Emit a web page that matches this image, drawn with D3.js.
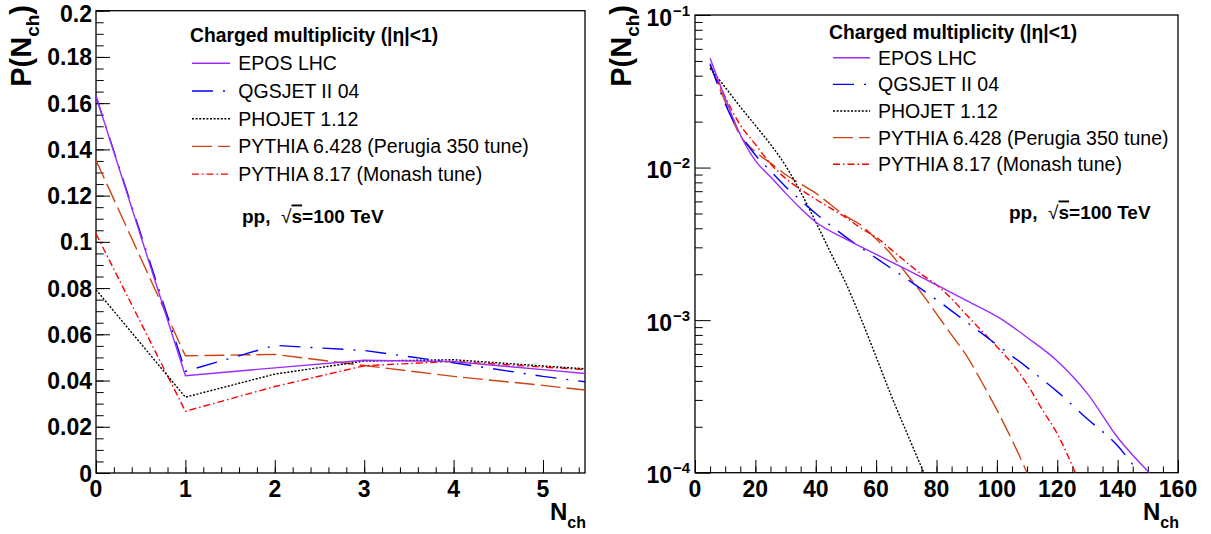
<!DOCTYPE html>
<html><head><meta charset="utf-8">
<script src="https://cdn.jsdelivr.net/npm/d3@7"></script>
<style>
body{margin:0;background:#fff}
svg text{font-family:"Liberation Sans",Arial,Helvetica,sans-serif;fill:#000}
</style>
</head><body>
<svg id="c" width="1211" height="534"></svg>
<script>
// ---------------- data ----------------
const seriesNames = ["EPOS LHC","QGSJET II 04","PHOJET 1.12","PYTHIA 6.428 (Perugia 350 tune)","PYTHIA 8.17 (Monash tune)"];
const legendTitle = "Charged multiplicity (|η|<1)";
// left panel (linear scale), N_ch = 0..6
const linNch = [0,1,2,3,4,5,6];
const linEPOS   = [0.163, 0.0421, 0.0455, 0.0488, 0.0482, 0.0447, 0.0412];
const linQGSJET = [0.163, 0.0440, 0.0552, 0.0530, 0.0477, 0.0418, 0.0369];
const linPHOJET = [0.0793,0.0328, 0.0428, 0.0484, 0.0490, 0.0463, 0.0437];
const linPY6    = [0.1353,0.0507, 0.0513, 0.0465, 0.0418, 0.0379, 0.0336];
const linPY8    = [0.1035,0.0267, 0.0374, 0.0464, 0.0483, 0.0458, 0.0436];
// right panel (log scale)
const logNchEPOS   = [5,10,15,20,25,30,35,40,50,60,70,80,90,102,110,120,130,140,150.5];
const logEPOS      = [0.052,0.0285,0.0164,0.0111,0.0087,0.0068,0.0054,0.0044,0.0034,0.0027,0.00215,0.0017,0.00134,0.0010,0.00077,0.00054,0.00033,0.00017,0.0001];
const logNchQGSJET = [5,10,15,20,25,30,35,40,50,60,70,80,90,100,110,120,130,140,147];
const logQGSJET    = [0.048,0.0262,0.0166,0.0121,0.0095,0.0075,0.0061,0.0050,0.0035,0.00255,0.00187,0.00136,0.00097,0.00069,0.00049,0.00034,0.000225,0.00015,0.0001];
const logNchPHOJET = [5,10,15,20,25,30,35,40,45,50,55,60,65,70,75.8];
const logPHOJET    = [0.0448,0.0336,0.0250,0.0189,0.0142,0.0103,0.0069,0.0044,0.00275,0.00174,0.00102,0.000575,0.00032,0.000186,0.0001];
const logNchPY6    = [5,10,15,20,25,30,35,40,45,50,55,60,65,70,75,80,85,90,95,100,105,110];
const logPY6       = [0.047,0.027,0.0162,0.0127,0.0107,0.0090,0.0078,0.0068,0.0057,0.0048,0.0042,0.0034,0.0027,0.00202,0.00151,0.00110,0.00080,0.000583,0.000393,0.000258,0.000164,0.0001];
const logNchPY8    = [5,10,15,20,25,30,35,40,45,50,55,60,65,70,75,80,85,90,95,100,105,110,115,120,126];
const logPY8       = [0.047,0.029,0.0190,0.0142,0.0106,0.0085,0.0072,0.0062,0.0054,0.0047,0.0040,0.0035,0.0029,0.0024,0.0020,0.0017,0.00138,0.00108,0.00085,0.00067,0.00052,0.00038,0.00026,0.00018,0.0001];
const linYTicks = [0,0.02,0.04,0.06,0.08,0.1,0.12,0.14,0.16,0.18,0.2];
const linYTickLabels = ["0","0.02","0.04","0.06","0.08","0.1","0.12","0.14","0.16","0.18","0.2"];
const linXTicks = [0,1,2,3,4,5];
const logXTicks = [0,20,40,60,80,100,120,140,160];
const logYDecades = [-1,-2,-3,-4];

// ---------------- styles ----------------
const colors = ["#9a2cff","#0000ff","#000000","#cc4411","#ff0000"];
const dashes = [null,"21,10,2,10","2,1.6","20,6","7,3,1.5,3"];

const svg = d3.select("#c");
const FONT_TICK = 23;

function frame(g, x0, x1, y0, y1){
  g.append("rect").attr("x",x0).attr("y",y1).attr("width",x1-x0).attr("height",y0-y1)
   .attr("fill","none").attr("stroke","#000").attr("stroke-width",1.3);
}
function legend(g, o){
  g.append("text").attr("x",o.tx).attr("y",o.ty).attr("font-size",19.3).attr("font-weight","bold").text(legendTitle);
  seriesNames.forEach((n,i)=>{
    const yc = o.r0 + i*o.dy;
    g.append("line").attr("x1",o.lx0).attr("x2",o.lx1).attr("y1",yc).attr("y2",yc)
     .attr("stroke",colors[i]).attr("stroke-width",1.4).attr("stroke-dasharray",dashes[i]);
    g.append("text").attr("x",o.ex).attr("y",yc+6.9).attr("font-size",19.5).text(n);
  });
  const t = g.append("text").attr("x",o.px).attr("y",o.py).attr("font-size",19).attr("font-weight","bold")
     .style("white-space","pre");
  t.append("tspan").text("pp,  ");
  t.append("tspan").attr("font-weight","normal").text("√");
  t.append("tspan").attr("text-decoration","overline").text("s");
  t.append("tspan").text("=100 TeV");
}
function xTitle(g, xr, yb){
  const t = g.append("text").attr("x",xr).attr("y",yb).attr("text-anchor","end").attr("font-size",24).attr("font-weight","bold");
  t.append("tspan").text("N");
  t.append("tspan").attr("font-size",16).attr("dy",8).text("ch");
}
function yTitle(g, xb, ytop){
  const t = g.append("text").attr("transform",`translate(${xb},${ytop}) rotate(-90)`).attr("text-anchor","end")
     .attr("font-size",29).attr("font-weight","bold");
  t.append("tspan").text("P(N");
  t.append("tspan").attr("font-size",19).attr("dy",8).text("ch");
  t.append("tspan").attr("dy",-8).text(")");
}

// ---------------- left panel ----------------
{
  const g = svg.append("g");
  const x = d3.scaleLinear().domain([0,5.47]).range([96,585]);
  const y = d3.scaleLinear().domain([0,0.2]).range([473,10.7]);
  g.append("clipPath").attr("id","clipL").append("rect").attr("x",96).attr("y",10.7).attr("width",489).attr("height",462.3);
  const minorY = d3.range(0,0.2001,0.005);
  const minorX = d3.range(0,5.47,0.2);
  g.append("g").attr("transform","translate(96,0)")
    .call(d3.axisLeft(y).tickValues(minorY).tickSize(-7.7).tickFormat(""))
    .call(a=>a.select(".domain").remove());
  g.append("g").attr("transform","translate(96,0)")
    .call(d3.axisLeft(y).tickValues(linYTicks).tickSize(-14).tickFormat(""))
    .call(a=>a.select(".domain").remove());
  g.append("g").attr("transform","translate(0,473)")
    .call(d3.axisBottom(x).tickValues(minorX).tickSize(-5.7).tickFormat(""))
    .call(a=>a.select(".domain").remove());
  g.append("g").attr("transform","translate(0,473)")
    .call(d3.axisBottom(x).tickValues(linXTicks).tickSize(-13).tickFormat(""))
    .call(a=>a.select(".domain").remove());
  g.selectAll(".tick line").attr("stroke","#000");
  linYTicks.forEach((v,i)=>{
    g.append("text").attr("x",92).attr("y",Math.max(y(v)+8.5,21.5)).attr("text-anchor","end")
     .attr("font-size",FONT_TICK).attr("font-weight","bold").text(linYTickLabels[i]);
  });
  linXTicks.forEach(v=>{
    g.append("text").attr("x",x(v)).attr("y",497).attr("text-anchor","middle")
     .attr("font-size",FONT_TICK).attr("font-weight","bold").text(v);
  });
  frame(g,96,585,473,10.7);
  const series = [linEPOS,linQGSJET,linPHOJET,linPY6,linPY8];
  const line = d3.line().x((d,i)=>x(linNch[i])).y(d=>y(d));
  const order = [3,4,2,1,0];
  order.forEach(i=>{
    g.append("path").attr("clip-path","url(#clipL)").attr("d",line(series[i]))
     .attr("fill","none").attr("stroke",colors[i]).attr("stroke-width",1.4)
     .attr("stroke-dasharray",dashes[i]);
  });
  legend(g,{tx:190,ty:41.5,r0:63.3,dy:27.7,lx0:192,lx1:230,ex:238.3,px:242,py:222.5});
  xTitle(g,586,520);
  yTitle(g,31,5);
}

// ---------------- right panel ----------------
{
  const g = svg.append("g");
  const x = d3.scaleLinear().domain([0,160]).range([695,1178]);
  const y = d3.scaleLog().domain([1e-4,1e-1]).range([472.7,15]);
  g.append("clipPath").attr("id","clipR").append("rect").attr("x",695).attr("y",15).attr("width",483).attr("height",457.7);
  const minorY = [];
  [-4,-3,-2].forEach(e=>{ for(let k=2;k<=9;k++) minorY.push(k*Math.pow(10,e)); });
  const majorY = logYDecades.map(e=>Math.pow(10,e));
  g.append("g").attr("transform","translate(695,0)")
    .call(d3.axisLeft(y).tickValues(minorY).tickSize(-7.7).tickFormat(""))
    .call(a=>a.select(".domain").remove());
  g.append("g").attr("transform","translate(695,0)")
    .call(d3.axisLeft(y).tickValues(majorY).tickSize(-15.7).tickFormat(""))
    .call(a=>a.select(".domain").remove());
  g.append("g").attr("transform","translate(0,472.7)")
    .call(d3.axisBottom(x).tickValues(d3.range(0,161,5)).tickSize(-6.3).tickFormat(""))
    .call(a=>a.select(".domain").remove());
  g.append("g").attr("transform","translate(0,472.7)")
    .call(d3.axisBottom(x).tickValues(logXTicks).tickSize(-12.7).tickFormat(""))
    .call(a=>a.select(".domain").remove());
  g.selectAll(".tick line").attr("stroke","#000");
  logYDecades.forEach(e=>{
    const yy = y(Math.pow(10,e));
    g.append("text").attr("x",672).attr("y",yy+10.6).attr("text-anchor","end")
     .attr("font-size",FONT_TICK).attr("font-weight","bold").text("10");
    g.append("text").attr("x",673).attr("y",yy+0.5).attr("text-anchor","start")
     .attr("font-size",15).attr("font-weight","bold").text("\u2212"+Math.abs(e));
  });
  logXTicks.forEach(v=>{
    g.append("text").attr("x",x(v)).attr("y",497).attr("text-anchor","middle")
     .attr("font-size",FONT_TICK).attr("font-weight","bold").text(v);
  });
  frame(g,695,1178,472.7,15);
  const xs = [logNchEPOS,logNchQGSJET,logNchPHOJET,logNchPY6,logNchPY8];
  const ys = [logEPOS,logQGSJET,logPHOJET,logPY6,logPY8];
  const order = [3,4,2,1,0];
  order.forEach(i=>{
    const line = d3.line().x((d,j)=>x(xs[i][j])).y(d=>y(d)).curve(d3.curveMonotoneX);
    g.append("path").attr("clip-path","url(#clipR)").attr("d",line(ys[i]))
     .attr("fill","none").attr("stroke",colors[i]).attr("stroke-width",1.4)
     .attr("stroke-dasharray",dashes[i]);
  });
  legend(g,{tx:829,ty:39,r0:57.8,dy:26.6,lx0:833,lx1:870,ex:878,px:1009,py:218.5});
  xTitle(g,1179,520);
  yTitle(g,631,5);
}
</script>
</body></html>
